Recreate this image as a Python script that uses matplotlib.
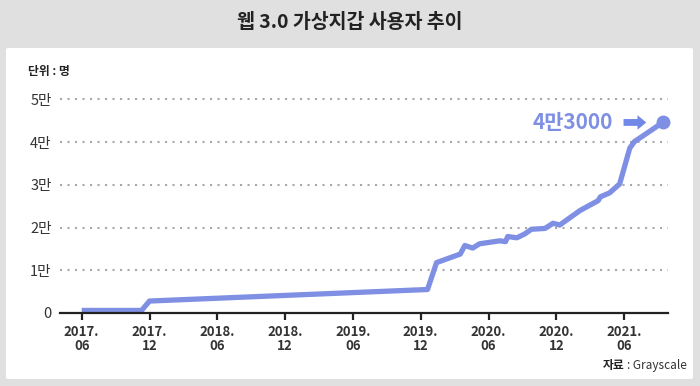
import matplotlib
matplotlib.use("agg")
import matplotlib.pyplot as plt
from matplotlib.patches import FancyBboxPatch

plt.rcParams['font.family'] = ['Noto Sans CJK KR', 'DejaVu Sans']

# months counted from 2017.06, users in persons
months = [0, 5.3, 6.0, 30.6, 31.4, 33.5, 33.9, 34.6, 35.2, 37.0, 37.5, 37.7,
          38.5, 39.2, 39.8, 41.0, 41.7, 42.3, 44.1, 45.7, 45.9, 46.7, 47.6,
          48.5, 48.9, 50.3, 51.4]
users = [600, 600, 2800, 5500, 11800, 13800, 15800, 15200, 16200, 16900,
         16700, 17900, 17600, 18500, 19600, 19800, 21000, 20600, 24000, 26300,
         27200, 28100, 30200, 38600, 40100, 42600, 44600]

tick_months = [0, 6, 12, 18, 24, 30, 36, 42, 48]
x_labels = ["2017.\n06", "2017.\n12", "2018.\n06", "2018.\n12", "2019.\n06",
            "2019.\n12", "2020.\n06", "2020.\n12", "2021.\n06"]
y_ticks = [0, 10000, 20000, 30000, 40000, 50000]
y_labels = ["0", "1만", "2만", "3만", "4만", "5만"]
end_label = "4만3000"

LINE = "#7f90e4"
W, H = 700, 386

fig = plt.figure(figsize=(7, 3.86), dpi=100, facecolor="#e0e0e0")

# white card behind the chart
panel = FancyBboxPatch((6 / W, 7 / H), 687 / W, 331 / H,
                       boxstyle="round,pad=0,rounding_size=0.004",
                       transform=fig.transFigure, fc="white", ec="none",
                       zorder=-10)
fig.patches.append(panel)

fig.text(0.5, 1 - 22 / H, "웹 3.0 가상지갑 사용자 추이", ha="center",
         va="center", fontsize=14, fontweight="bold", color="#222222")
fig.text(28 / W, 1 - 72 / H, "단위 : 명", ha="left", va="center",
         fontsize=8.5, fontweight="bold", color="#222222")

# source note: bold "자료" followed by regular ": Grayscale"
src = fig.text(687 / W, 1 - 366 / H, ": Grayscale", ha="right", va="center",
               fontsize=8.5, color="#333333")
fig.canvas.draw()
src_left = src.get_window_extent().x0
fig.text((src_left - 3) / W, 1 - 366 / H, "자료", ha="right", va="center",
         fontsize=8.5, fontweight="bold", color="#222222")

ax = fig.add_axes([60 / W, 73 / H, 608 / W, 223 / H])
ax.patch.set_visible(False)
ax.set_xlim(-1.92, 51.88)
ax.set_ylim(0, 52200)

for v in y_ticks[1:]:
    ax.axhline(v, color="#a8a8a8", lw=1.5, ls=(0, (1, 2.6)), zorder=1)

ax.plot(months, users, color=LINE, lw=3.8, solid_joinstyle="round",
        solid_capstyle="butt", clip_on=False, zorder=3)
ax.plot(months[-1], users[-1], "o", ms=9, color=LINE, clip_on=False, zorder=4)

ax.text(47.0, users[-1], end_label, ha="right", va="center", fontsize=15,
        fontweight="bold", color=LINE)
ax.annotate("", xy=(50.2, users[-1]), xytext=(47.7, users[-1]),
            arrowprops=dict(arrowstyle="simple,head_length=0.45,head_width=0.75,tail_width=0.35",
                            mutation_scale=14, color="#7088e6", lw=0))

for side in ["top", "left", "right"]:
    ax.spines[side].set_visible(False)
ax.spines["bottom"].set_color("#222222")
ax.spines["bottom"].set_linewidth(1.6)
ax.spines["bottom"].set_zorder(5)

ax.set_xticks(tick_months, x_labels, fontsize=9.5, fontweight="bold",
              color="#333333", linespacing=1.0)
ax.tick_params(axis="x", length=5, width=1.6, color="#222222", pad=4)
ax.set_yticks(y_ticks, y_labels, fontsize=10.5, color="#333333")
ax.tick_params(axis="y", length=0, pad=6)

fig.savefig("out.png", dpi=100, facecolor=fig.get_facecolor())
